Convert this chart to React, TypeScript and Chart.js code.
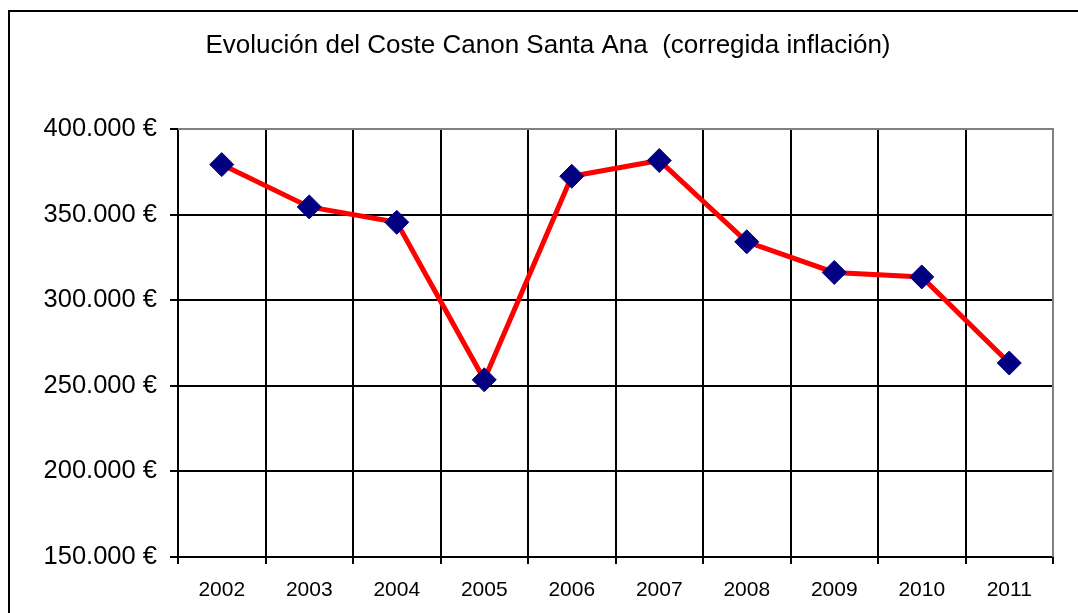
import React, { useEffect, useRef } from "react";
import { Chart, registerables } from "chart.js";

Chart.register(...registerables);

const TITLE = "Evolución del Coste Canon Santa Ana  (corregida inflación)";
const years = ["2002", "2003", "2004", "2005", "2006", "2007", "2008", "2009", "2010", "2011"];
const costs = [379200, 354500, 345500, 253500, 372400, 381600, 334100, 316200, 313600, 263300];
const yMin = 150000;
const yMax = 400000;
const yStep = 50000;

function formatEuro(v: number): string {
  return String(Math.round(v)).replace(/\B(?=(\d{3})+(?!\d))/g, ".") + " €";
}

const FONT = '"Liberation Sans", Arial, sans-serif';

const decorPlugin = {
  id: "decor",
  beforeDraw(chart: any) {
    const ctx = chart.ctx;
    ctx.save();
    ctx.fillStyle = "#ffffff";
    ctx.fillRect(0, 0, chart.width, chart.height);
    ctx.strokeStyle = "#000000";
    ctx.lineWidth = 2;
    ctx.strokeRect(9, 11, chart.width + 20, chart.height + 20);
    ctx.fillStyle = "#000000";
    ctx.font = "26px " + FONT;
    ctx.textAlign = "center";
    ctx.textBaseline = "middle";
    ctx.fillText(TITLE, 548, 46);
    ctx.restore();
  },
  beforeDatasetsDraw(chart: any) {
    const { ctx, chartArea } = chart;
    ctx.save();
    ctx.strokeStyle = "#808080";
    ctx.lineWidth = 2;
    ctx.beginPath();
    ctx.moveTo(chartArea.left, chartArea.top);
    ctx.lineTo(chartArea.right, chartArea.top);
    ctx.lineTo(chartArea.right, chartArea.bottom);
    ctx.stroke();
    ctx.restore();
  },
};

export default function App() {
  const canvasRef = useRef<HTMLCanvasElement | null>(null);

  useEffect(() => {
    document.body.style.margin = "0";
    const canvas = canvasRef.current;
    if (!canvas) return;
    const chart = new Chart(canvas, {
      type: "line",
      data: {
        labels: years,
        datasets: [
          {
            data: costs,
            borderColor: "#ff0000",
            borderWidth: 5,
            tension: 0,
            pointStyle: "rectRot",
            pointRadius: 12,
            pointBackgroundColor: "#000080",
            pointBorderColor: "#000080",
            pointBorderWidth: 1,
            fill: false,
          },
        ],
      },
      options: {
        animation: false,
        responsive: true,
        maintainAspectRatio: false,
        layout: { padding: { top: 129, right: 25, left: 0, bottom: 0 } },
        plugins: {
          legend: { display: false },
          tooltip: { enabled: false },
          title: { display: false },
        },
        scales: {
          x: {
            type: "category",
            offset: true,
            grid: {
              offset: true,
              color: "#000000",
              lineWidth: 2,
              tickLength: 7,
              drawOnChartArea: true,
            },
            border: { display: true, color: "#000000", width: 2 },
            ticks: {
              color: "#000000",
              font: { family: FONT, size: 21 },
              padding: 14,
              maxRotation: 0,
              autoSkip: false,
            },
            afterFit(scale: any) {
              scale.height = 56;
            },
          },
          y: {
            min: yMin,
            max: yMax,
            grid: {
              color: "#000000",
              lineWidth: 2,
              tickLength: 8,
            },
            border: { display: true, color: "#000000", width: 2 },
            ticks: {
              stepSize: yStep,
              color: "#000000",
              font: { family: FONT, size: 25.5 },
              padding: 13,
              callback: (v: any) => formatEuro(Number(v)),
            },
            afterFit(scale: any) {
              scale.width = 178;
            },
          },
        },
      },
      plugins: [decorPlugin],
    });
    return () => chart.destroy();
  }, []);

  return (
    <div style={{ position: "relative", width: 1078, height: 613 }}>
      <canvas ref={canvasRef} />
    </div>
  );
}
